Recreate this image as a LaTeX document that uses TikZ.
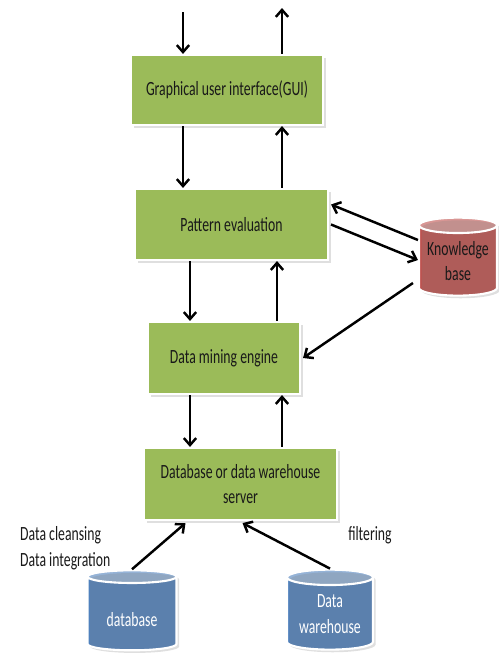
\documentclass[tikz,border=0pt]{standalone}
\usepackage{fontspec}
\setmainfont[FakeStretch=0.68]{Carlito}
\usetikzlibrary{shapes.geometric,shadows,calc,arrows.meta}
\definecolor{boxgreen}{HTML}{9BBB59}
\definecolor{kbred}{HTML}{C0504D}
\definecolor{kbtop}{HTML}{D99694}
\definecolor{dbblue}{HTML}{4F81BD}
\definecolor{dbtop}{HTML}{95B3D7}
\begin{document}
\begin{tikzpicture}[x=0.02cm,y=-0.02cm,>={Straight Barb[length=4pt,width=7pt]},
  every node/.style={font=\fontsize{11.5}{14.5}\selectfont,text=black!90},
  box/.style={draw=white,line width=1.2pt,fill=boxgreen,align=center,inner sep=0pt,
    drop shadow={opacity=0.25,shadow xshift=1.5pt,shadow yshift=-1.5pt}},
  store/.style={cylinder,shape border rotate=90,aspect=0.25,draw=white,line width=1.2pt,
    cylinder uses custom fill,align=center,inner sep=0pt,
    drop shadow={opacity=0.25,shadow xshift=1.5pt,shadow yshift=-1.5pt}},
  flow/.style={->,line width=1.4pt}]
\useasboundingbox (0,0) rectangle (499,654);

\node[box,minimum width=3.84cm,minimum height=1.4cm] (gui) at (227,90) {Graphical user interface(GUI)};
\node[box,minimum width=3.86cm,minimum height=1.42cm] (pe) at (231.5,224.5) {Pattern evaluation};
\node[box,minimum width=3.04cm,minimum height=1.44cm] (dme) at (224,358) {Data mining engine};
\node[box,minimum width=3.86cm,minimum height=1.44cm] (srv) at (240.5,484) {Database or data warehouse\\server};

\node[store,cylinder body fill=kbred,cylinder end fill=kbtop,minimum width=1.56cm,minimum height=1.56cm] (kb) at (458,261) {Knowledge\\base};
\node[store,cylinder body fill=dbblue,cylinder end fill=dbtop,minimum width=1.78cm,minimum height=1.6cm,text=white] (db) at (132,614) {\\database};
\node[store,cylinder body fill=dbblue,cylinder end fill=dbtop,minimum width=1.72cm,minimum height=1.6cm,text=white] (dw) at (330,614) {Data\\warehouse};

\node[anchor=west,align=left] (clean) at (14,548) {Data cleansing\\Data integration};
\node (filt) at (370,535) {filtering};

\coordinate (in) at (183,12);
\coordinate (out) at (282,8);
\draw[flow] (in) -- (183,0 |- gui.north);
\draw[flow] (282,0 |- gui.north) -- (out);
\draw[flow] (183,0 |- gui.south) -- (183,0 |- pe.north);
\draw[flow] (282,0 |- pe.north) -- (282,0 |- gui.south);
\draw[flow] (190,0 |- pe.south) -- (190,0 |- dme.north);
\draw[flow] (277,0 |- dme.north) -- (277,0 |- pe.south);
\draw[flow] (190,0 |- dme.south) -- (190,0 |- srv.north);
\draw[flow] (282,0 |- srv.north) -- (282,0 |- dme.south);

\draw[flow] ($(kb.west)+(0,-21)$) -- ($(pe.east)+(2,-20)$);
\draw[flow] ($(pe.east)+(2,0)$) -- ($(kb.west)+(0,-1)$);
\draw[flow] ($(kb.west)+(-5,22)$) -- ($(dme.east)+(2,0)$);

\draw[flow] (db.north) -- ($(srv.south)+(-55,2)$);
\draw[flow] (dw.north) -- ($(srv.south)+(2,2)$);
\end{tikzpicture}
\end{document}
